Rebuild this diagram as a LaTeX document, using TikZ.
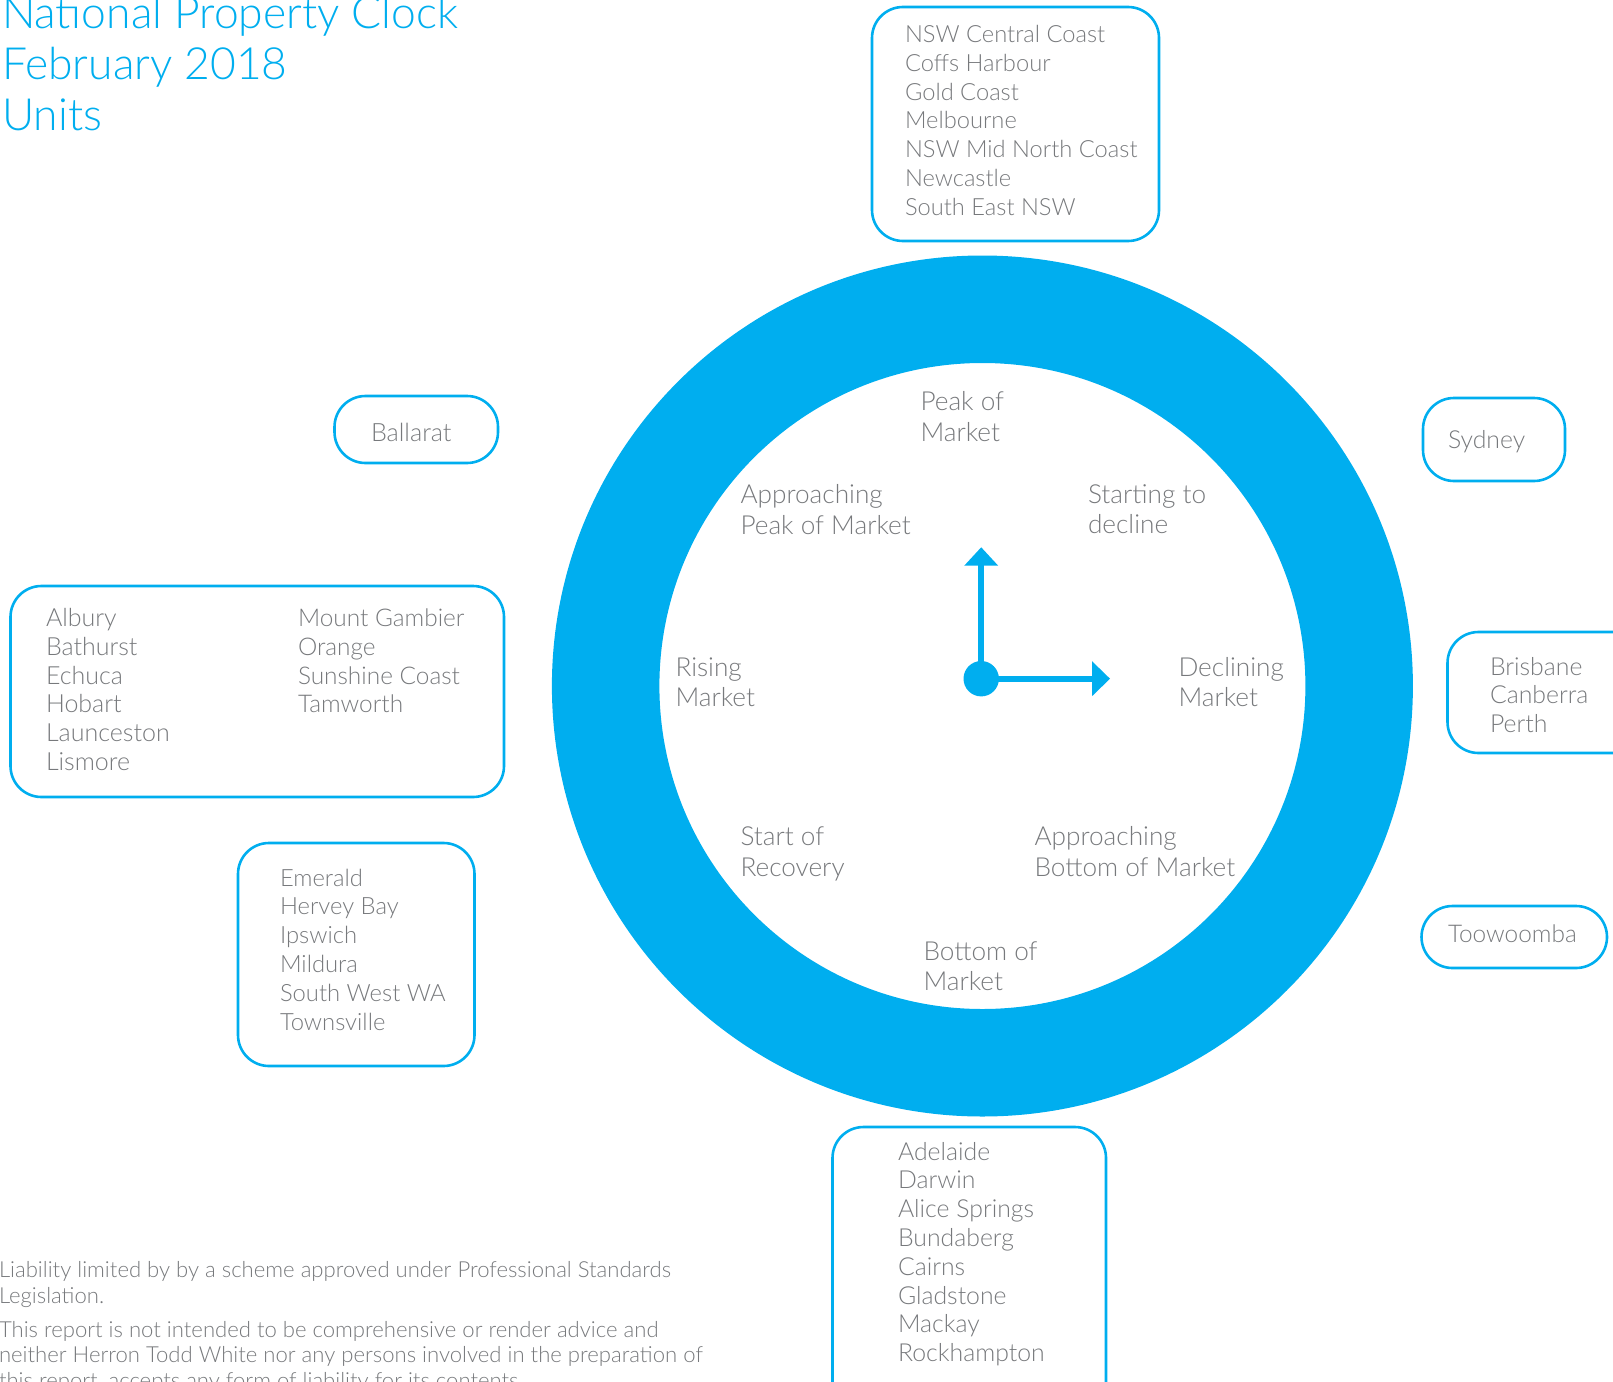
\documentclass[tikz,border=0pt]{standalone}
\usepackage{fontspec}
\setmainfont{Lato}[UprightFont=* Light,BoldFont=*]
\definecolor{htwblue}{HTML}{00AEEF}
\definecolor{htwgrey}{HTML}{77797C}
\newcommand{\fsz}[1]{\fontsize{#1}{28.8}\selectfont}
\tikzset{
  listbox/.style={draw=htwblue,line width=2.6pt,rounded corners=31pt},
  listtext/.style={anchor=base west,align=left,inner sep=0pt,outer sep=0pt,text=htwgrey,font=\fsz{24.4}},
  clocktext/.style={anchor=base west,align=left,inner sep=0pt,outer sep=0pt,text=htwgrey,font=\fontsize{26.2}{30.4}\selectfont},
  titletext/.style={anchor=base west,align=left,inner sep=0pt,outer sep=0pt,text=htwblue,font=\fontsize{44.4}{51}\selectfont},
  foottext/.style={anchor=base west,align=left,inner sep=0pt,outer sep=0pt,text=htwgrey,font=\fontsize{22.1}{25.5}\selectfont},
  hand/.style={draw=htwblue,line width=6pt}
}
\begin{document}
\begin{tikzpicture}[x=1pt,y=-1pt]
\useasboundingbox (0,0) rectangle (1613,1381);
\clip (0,0) rectangle (1613,1381);
% ring
\fill[htwblue,even odd rule] (982.4,686) circle[radius=430.5] (982.4,686) circle[radius=323];
% boxes
\draw[listbox] (872,7) rectangle (1159,241);
\draw[listbox] (334.5,396) rectangle (498,463);
\draw[listbox] (1423,398) rectangle (1565,481);
\draw[listbox] (1447.5,632) rectangle (1650,753);
\draw[listbox] (1421.5,906) rectangle (1607,968);
\draw[listbox] (10.5,586) rectangle (504,797);
\draw[listbox] (238,843) rectangle (474.5,1066);
\draw[listbox] (832.5,1127) rectangle (1106,1420);
% title
\node[titletext] (title) at (2,130.7) {National Property Clock\\February 2018\\Units};
% list text
\node[listtext,font=\fsz{23.7}] (coast) at (905,215.3) {NSW Central Coast\\Coffs Harbour\\Gold Coast\\Melbourne\\NSW Mid North Coast\\Newcastle\\South East NSW};
\node[listtext,font=\fsz{25.2}] (ballarat) at (371,441) {Ballarat};
\node[listtext,font=\fsz{24.8}] (sydney) at (1448,448.5) {Sydney};
\node[listtext,font=\fsz{24.8}] (brisbane) at (1490,732.6) {Brisbane\\Canberra\\Perth};
\node[listtext] (toowoomba) at (1448,942) {Toowoomba};
\node[listtext,font=\fsz{25}] (albury) at (46,770.5) {Albury\\Bathurst\\Echuca\\Hobart\\Launceston\\Lismore};
\node[listtext] (gambier) at (298,712.9) {Mount Gambier\\Orange\\Sunshine Coast\\Tamworth};
\node[listtext,font=\fsz{23.8}] (emerald) at (280,1030) {Emerald\\Hervey Bay\\Ipswich\\Mildura\\South West WA\\Townsville};
\node[listtext,font=\fsz{24.8}] (adelaide) at (898,1361.6) {Adelaide\\Darwin\\Alice Springs\\Bundaberg\\Cairns\\Gladstone\\Mackay\\Rockhampton};
% clock labels
\node[clocktext] (peak) at (920.5,441) {Peak of\\Market};
\node[clocktext] (appeak) at (740.5,534) {Approaching\\Peak of Market};
\node[clocktext] (start) at (1088,533.4) {Starting to\\decline};
\node[clocktext] (rising) at (675.5,706.4) {Rising\\Market};
\node[clocktext] (declining) at (1178.5,706.4) {Declining\\Market};
\node[clocktext] (recovery) at (740.5,876) {Start of\\Recovery};
\node[clocktext] (apbottom) at (1034.5,876) {Approaching\\Bottom of Market};
\node[clocktext] (bottom) at (923.5,990.4) {Bottom of\\Market};
% hands
\coordinate (pivot) at (981.2,678.7);
\coordinate (upbase) at (981.2,565);
\coordinate (rightbase) at (1092,678.7);
\draw[hand] (pivot) -- (upbase);
\draw[hand] (pivot) -- (rightbase);
\fill[htwblue] (pivot) circle[radius=17.7];
\fill[htwblue] (981.2,547.3) -- (998.2,565.7) -- (964.2,565.7) -- cycle;
\fill[htwblue] (1110,678.7) -- (1092,661.2) -- (1092,696.2) -- cycle;
% footer
\node[foottext] (liability) at (-1,1303) {Liability limited by by a scheme approved under Professional Standards\\Legislation.};
\node[foottext] (report) at (-1,1388) {This report is not intended to be comprehensive or render advice and\\neither Herron Todd White nor any persons involved in the preparation of\\this report, accepts any form of liability for its contents.};
\end{tikzpicture}
\end{document}
